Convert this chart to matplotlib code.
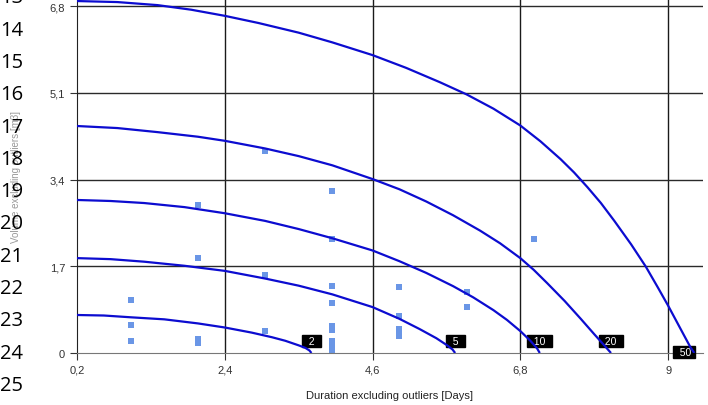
import matplotlib.pyplot as plt

# return-period curves (volume vs duration)
periods = ['2', '5', '10', '20', '50']
curve_x = {
    '2': [0.2, 0.6, 1.0, 1.5, 2.0, 2.4, 2.8, 3.1, 3.3, 3.5, 3.6, 3.66, 3.69],
    '5': [0.2, 0.7, 1.2, 1.8, 2.4, 3.0, 3.5, 4.0, 4.6, 5.0, 5.3, 5.55, 5.7, 5.79, 5.83],
    '10': [0.2, 0.7, 1.2, 1.8, 2.4, 3.0, 3.5, 4.0, 4.6, 5.0, 5.4, 5.8, 6.1, 6.4, 6.6, 6.8,
           6.95, 7.05, 7.09],
    '20': [0.2, 0.8, 1.4, 2.0, 2.4, 3.0, 3.5, 4.0, 4.6, 5.0, 5.4, 5.8, 6.2, 6.5, 6.8, 7.0,
           7.2, 7.46, 7.7, 7.9, 8.05, 8.15],
    '50': [0.2, 0.8, 1.4, 1.9, 2.4, 2.9, 3.5, 4.0, 4.6, 5.1, 5.6, 6.0, 6.4, 6.8, 7.1, 7.4,
           7.6, 7.8, 8.0, 8.2, 8.45, 8.67, 8.85, 9.0, 9.24, 9.33, 9.39],
}
curve_y = {
    '2': [0.745, 0.735, 0.70, 0.66, 0.58, 0.50, 0.40, 0.31, 0.24, 0.15, 0.10, 0.05, 0.0],
    '5': [1.86, 1.84, 1.79, 1.71, 1.61, 1.46, 1.32, 1.15, 0.90, 0.67, 0.47, 0.29, 0.16, 0.07, 0.0],
    '10': [3.00, 2.98, 2.94, 2.86, 2.74, 2.59, 2.43, 2.25, 2.01, 1.80, 1.57, 1.31, 1.09, 0.84,
           0.65, 0.43, 0.24, 0.09, 0.0],
    '20': [4.45, 4.41, 4.33, 4.24, 4.16, 4.01, 3.86, 3.68, 3.41, 3.21, 2.97, 2.70, 2.40, 2.15,
           1.86, 1.63, 1.37, 1.02, 0.67, 0.37, 0.15, 0.0],
    '50': [6.90, 6.88, 6.82, 6.73, 6.61, 6.47, 6.28, 6.09, 5.84, 5.59, 5.31, 5.07, 4.79, 4.46,
           4.15, 3.80, 3.54, 3.25, 2.94, 2.59, 2.13, 1.69, 1.28, 0.93, 0.34, 0.12, 0.0],
}

# observed events
days = [1, 1, 1,
        2, 2, 2, 2,
        3, 3, 3,
        4, 4, 4, 4, 4, 4, 4, 4, 4,
        5, 5, 5, 5, 5,
        6, 6,
        7]
volume = [1.04, 0.54, 0.24,
          2.90, 1.86, 0.28, 0.20,
          3.96, 1.53, 0.43,
          3.18, 2.24, 1.32, 0.98, 0.52, 0.45, 0.24, 0.15, 0.06,
          1.29, 0.73, 0.47, 0.40, 0.33,
          1.19, 0.90,
          2.24]

xticks = [0.2, 2.4, 4.6, 6.8, 9]
yticks = [0, 1.7, 3.4, 5.1, 6.8]

plt.rcParams['font.family'] = ['Liberation Sans', 'DejaVu Sans']

fig = plt.figure(figsize=(7.08, 4.06), dpi=100)
ax = fig.add_axes([77 / 708, 52 / 406, 626 / 708, 354 / 406])

ax.set_xlim(0.2, 9.52)
ax.set_ylim(0, 6.94)
ax.set_xticks(xticks)
ax.set_yticks(yticks)
ax.set_xticklabels([str(t).replace('.', ',') for t in xticks])
ax.set_yticklabels([str(t).replace('.', ',') for t in yticks])
ax.tick_params(labelsize=8, labelcolor='#333333', length=5, width=0.8, color='#333333')

for t in xticks[1:]:
    ax.axvline(t, color='#1a1a1a', lw=1, zorder=1)
for t in yticks[1:]:
    ax.axhline(t, color='#2a2a2a', lw=1, zorder=1)

for s in ['top', 'right']:
    ax.spines[s].set_visible(False)
ax.spines['left'].set_color('#222222')
ax.spines['bottom'].set_color('#777777')

ax.scatter(days, volume, marker='s', s=13, color='#6a96e6', linewidths=0, zorder=2)

box = dict(facecolor='black', edgecolor='black', pad=0.6)
for p in periods:
    ax.plot(curve_x[p], curve_y[p], color='#0c0cd0', lw=1.6, zorder=4,
            solid_capstyle='butt')
    xe = curve_x[p][-1]
    if p == '50':
        ax.text(xe, 0.02, '  ' + p + ' ', ha='right', va='center', color='white',
                fontsize=7.5, bbox=box, zorder=3)
    else:
        ax.text(xe, 0.235, '  ' + p + '  ', ha='center', va='center', color='white',
                fontsize=7.5, bbox=box, zorder=3)

ax.set_xlabel('Duration excluding outliers [Days]', fontsize=8, color='#222222')
ax.xaxis.set_label_coords(0.5, -0.105)
ax.set_ylabel('Volume excluding outliers [m3]', fontsize=7, color='#999999')
ax.yaxis.set_label_coords(-0.09, 0.5)

# editor line numbers down the left margin
for i, n in enumerate(range(13, 27)):
    ypx = -1.6 + i * 32.3
    fig.text(0.0, 1 - ypx / 406, str(n), fontsize=14.5, family='Open Sans',
             ha='left', va='center', color='black')

fig.savefig('out.png', dpi=100)
